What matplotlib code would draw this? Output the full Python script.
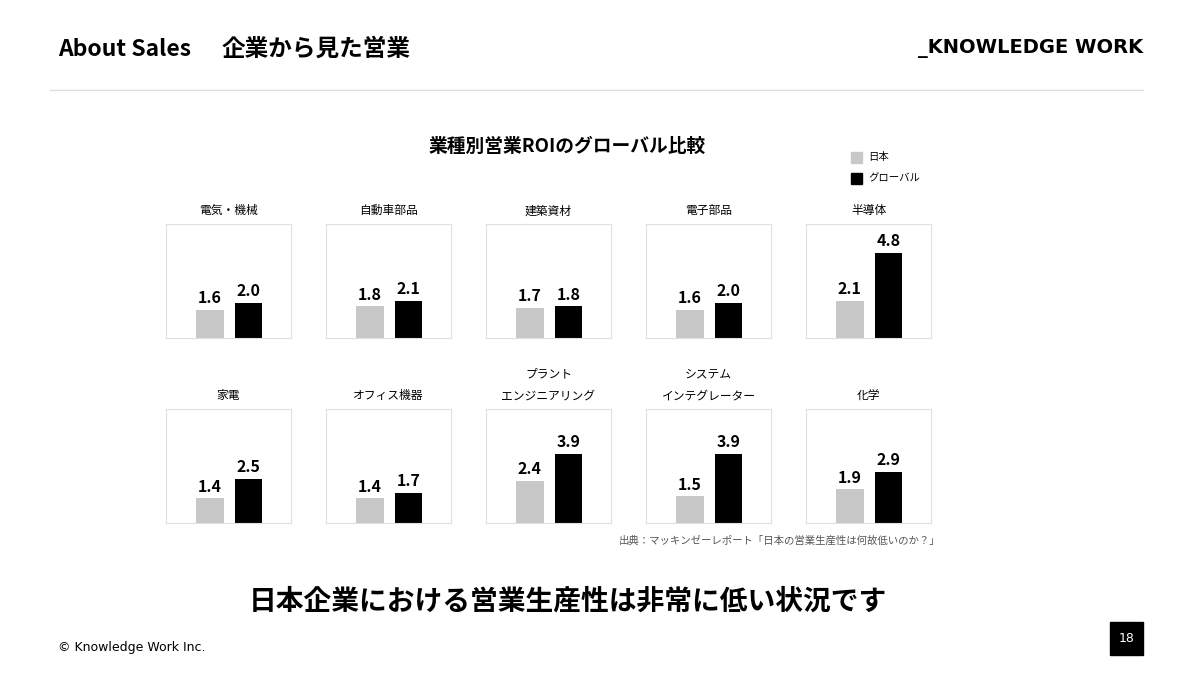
import matplotlib.pyplot as plt
from matplotlib.patches import Rectangle
from matplotlib.lines import Line2D

plt.rcParams['font.family'] = ['Noto Sans CJK JP', 'DejaVu Sans']

industries = ['電気・機械', '自動車部品', '建築資材', '電子部品', '半導体',
              '家電', 'オフィス機器', 'プラント\nエンジニアリング', 'システム\nインテグレーター', '化学']
japan = [1.6, 1.8, 1.7, 1.6, 2.1, 1.4, 1.4, 2.4, 1.5, 1.9]
globl = [2.0, 2.1, 1.8, 2.0, 4.8, 2.5, 1.7, 3.9, 3.9, 2.9]

W, H = 1200, 677
fig = plt.figure(figsize=(12, 6.77), dpi=100)
fig.patch.set_facecolor('white')

def px(x, y, w, h):
    return [x / W, 1 - (y + h) / H, w / W, h / H]

# header
fig.text(58 / W, 1 - 49 / H, 'About Sales', fontsize=16.5, fontweight='bold', va='center')
fig.text(222 / W, 1 - 49 / H, '企業から見た営業', fontsize=17, fontweight='bold', va='center')
fig.text(1143 / W, 1 - 49 / H, '_KNOWLEDGE WORK', fontsize=14, fontweight='bold',
         va='center', ha='right', family=['DejaVu Sans'])
fig.add_artist(Line2D([50 / W, 1143 / W], [1 - 90 / H] * 2, color='#dddddd', lw=1))

fig.text(567 / W, 1 - 146 / H, '業種別営業ROIのグローバル比較', fontsize=13.5, fontweight='bold',
         ha='center', va='center')

# legend
fig.add_artist(Rectangle((851 / W, 1 - 163 / H), 11 / W, 11 / H, color='#c8c8c8'))
fig.text(868 / W, 1 - 157 / H, '日本', fontsize=7.5, va='center')
fig.add_artist(Rectangle((851 / W, 1 - 184 / H), 11 / W, 11 / H, color='black'))
fig.text(868 / W, 1 - 178 / H, 'グローバル', fontsize=7.5, va='center')

for i, name in enumerate(industries):
    r, c = divmod(i, 5)
    x0 = 166 + 160 * c
    y0 = 224 if r == 0 else 409
    ax = fig.add_axes(px(x0, y0, 125, 114))
    ax.bar([0.35, 0.66], [japan[i], globl[i]], width=0.22, color=['#c8c8c8', 'black'])
    for xv, v in zip([0.35, 0.66], [japan[i], globl[i]]):
        ax.text(xv, v + 0.2, f'{v:.1f}', ha='center', va='bottom', fontsize=11.5, fontweight='bold')
    ax.set_xlim(0, 1)
    ax.set_ylim(0, 6.44)
    ax.set_xticks([])
    ax.set_yticks([])
    for s in ax.spines.values():
        s.set_color('#e0e0e0')
    ax.text(0.5, 1.06, name, transform=ax.transAxes, ha='center', va='bottom',
            fontsize=8.5, linespacing=1.9)

fig.text(940 / W, 1 - 541 / H, '出典：マッキンゼーレポート「日本の営業生産性は何故低いのか？」',
         fontsize=7.5, color='#555555', ha='right', va='center')
fig.text(568 / W, 1 - 602 / H, '日本企業における営業生産性は非常に低い状況です',
         fontsize=20, fontweight='bold', ha='center', va='center')
fig.text(58 / W, 1 - 647 / H, '© Knowledge Work Inc.', fontsize=9, va='center',
         family=['DejaVu Sans'])
fig.add_artist(Rectangle((1110 / W, 1 - 655 / H), 33 / W, 33 / H, color='black'))
fig.text(1126.5 / W, 1 - 638.5 / H, '18', color='white', fontsize=9, ha='center', va='center',
         family=['DejaVu Sans'])

fig.savefig('out.png', dpi=100)
